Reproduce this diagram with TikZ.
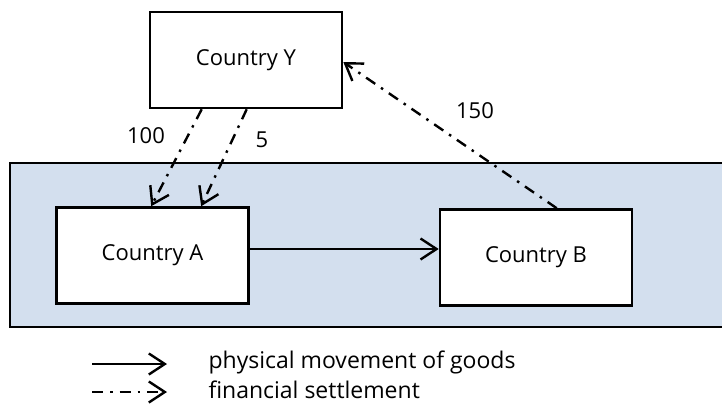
\documentclass[tikz,border=0pt]{standalone}
\usepackage{fontspec}
\setmainfont{Open Sans}
\usetikzlibrary{arrows.meta,positioning,calc}
\definecolor{zone}{RGB}{211,223,238}
\begin{document}
\begin{tikzpicture}[x=1pt,y=-1pt,
  font=\fontsize{22}{26}\selectfont,
  country/.style={draw,line width=2.6pt,fill=white,minimum width=192pt,minimum height=96pt,inner sep=0pt},
  goods/.style={line width=2.4pt,-{Straight Barb[length=16pt,width=21pt,line width=2.4pt]}},
  settle/.style={goods,dash pattern=on 11pt off 7pt on 2.5pt off 7pt},
  legtext/.style={anchor=west,font=\fontsize{23}{27}\selectfont}]
  \useasboundingbox (0,0) rectangle (722,407);
  \draw[line width=2.6pt,fill=zone] (10,163) rectangle (735,327);
  \node[country] (Y) at (246,60) {Country Y};
  \node[country] (A) at (152.5,255.5) {Country A};
  \node[country] (B) at (536,257.5) {Country B};
  % flows
  \draw[goods] ($(A.east)+(0,-6.5)$) -- ($(B.west)+(0,-8.5)$);
  \draw[settle] ($(Y.south west)+(53,0)$) -- ($(A.north west)+(96,0)$);
  \draw[settle] ($(Y.south west)+(98,0)$) -- ($(A.north west)+(146,0)$);
  \draw[settle] ($(B.north west)+(118,0)$) -- ($(Y.east)+(0,2)$);
  \node (l100) at (146,136) {100};
  \node (l5) at (262,140) {5};
  \node (l150) at (475,111) {150};
  % legend
  \coordinate (g1) at (92,364); \coordinate (g2) at (167,364);
  \coordinate (f1) at (92,392); \coordinate (f2) at (167,392);
  \draw[goods] (g1) -- (g2);
  \draw[settle] (f1) -- (f2);
  \node[legtext] (tg) at (205,362) {physical movement of goods};
  \node[legtext] (tf) at (205,390) {financial settlement};
\end{tikzpicture}
\end{document}
